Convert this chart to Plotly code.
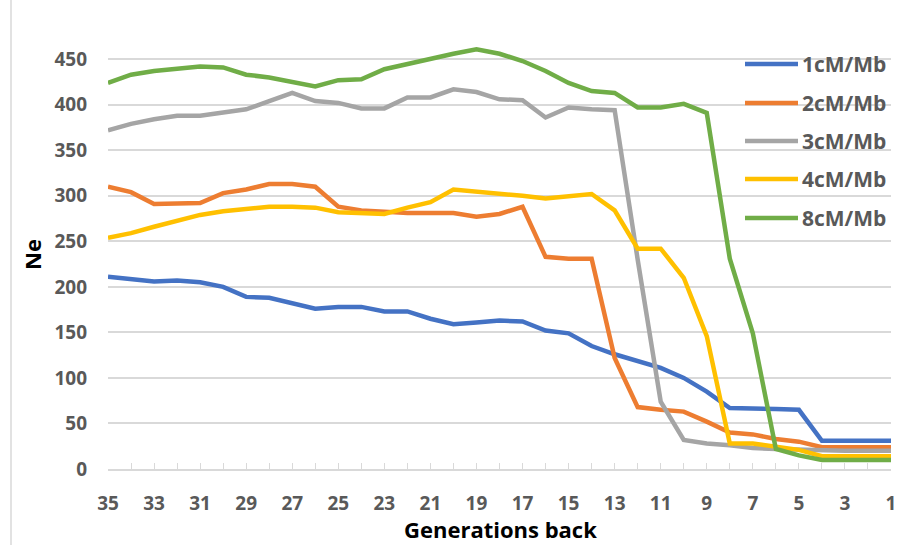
import plotly.graph_objects as go

# ---------------- data ----------------
generations = [35, 34, 33, 32, 31, 30, 29, 28, 27, 26, 25, 24, 23, 22, 21, 20, 19, 18,
               17, 16, 15, 14, 13, 12, 11, 10, 9, 8, 7, 6, 5, 4, 3, 2, 1]
x_tick_labels = ["35", "", "33", "", "31", "", "29", "", "27", "", "25", "", "23", "", "21", "",
                 "19", "", "17", "", "15", "", "13", "", "11", "", "9", "", "7", "", "5", "",
                 "3", "", "1"]
y_tick_values = [0, 50, 100, 150, 200, 250, 300, 350, 400, 450]

ne_1cM = [211, 208, 206, 207, 205, 200, 189, 188, 182, 176, 178, 178, 173, 173, 165, 159, 161, 163,
          162, 152, 149, 135, 126, 118, 111, 100, 85, 67, 67, 66, 65, 31, 31, 31, 31]
ne_2cM = [310, 304, 291, 291, 292, 303, 307, 313, 313, 310, 288, 284, 282, 281, 281, 281, 277, 280,
          288, 233, 231, 231, 122, 68, 65, 63, 52, 40, 38, 33, 30, 24, 24, 24, 24]
ne_3cM = [372, 379, 384, 388, 388, 391, 395, 404, 413, 404, 402, 396, 396, 408, 408, 417, 414, 406,
          405, 386, 397, 395, 394, 230, 74, 32, 28, 26, 23, 22, 21, 20, 20, 20, 20]
ne_4cM = [254, 259, 266, 273, 279, 283, 286, 288, 288, 287, 282, 281, 280, 287, 293, 307, 305, 302,
          300, 297, 299, 302, 284, 242, 242, 210, 146, 28, 28, 25, 21, 14, 14, 14, 14]
ne_8cM = [424, 433, 437, 439, 442, 441, 433, 430, 425, 420, 427, 428, 439, 445, 451, 456, 461, 456,
          448, 437, 424, 415, 413, 397, 397, 401, 391, 231, 149, 22, 15, 10, 10, 10, 10]

series_names = ["1cM/Mb", "2cM/Mb", "3cM/Mb", "4cM/Mb", "8cM/Mb"]
series_values = [ne_1cM, ne_2cM, ne_3cM, ne_4cM, ne_8cM]
series_colors = ["#4472C4", "#ED7D31", "#A5A5A5", "#FFC000", "#70AD47"]

x_title = "Generations back"
y_title = "Ne"

# ---------------- layout geometry ----------------
W, H = 902, 545
L, R, T, B = 108, 11, 41, 76
PW, PH = W - L - R, H - T - B


def px_x(x):
    return (x - L) / PW


def px_y(y):
    return (H - B - y) / PH


FONT = "Open Sans"
TICK_COLOR = "#595959"
GRID = "#D9D9D9"

fig = go.Figure()
for name, vals, col in zip(series_names, series_values, series_colors):
    fig.add_trace(go.Scatter(
        x=generations, y=vals, name=name, mode="lines",
        line=dict(color=col, width=4.5), showlegend=False,
    ))

shapes = []
annotations = []

# manual legend (long line samples like the original)
legend_y = [64, 103, 141, 179, 218]
for name, col, ly in zip(series_names, series_colors, legend_y):
    shapes.append(dict(type="line", xref="paper", yref="paper",
                       x0=px_x(745), x1=px_x(798), y0=px_y(ly), y1=px_y(ly),
                       line=dict(color=col, width=4.5)))
    annotations.append(dict(xref="paper", yref="paper", x=px_x(800), y=px_y(ly),
                            xanchor="left", yanchor="middle", showarrow=False,
                            text=name,
                            font=dict(family=FONT, size=21, color=TICK_COLOR, weight=700)))

# axis titles
annotations.append(dict(xref="paper", yref="paper", x=px_x(500), y=px_y(529),
                        xanchor="center", yanchor="middle", showarrow=False, text=x_title,
                        font=dict(family=FONT, size=22, color="#000000", weight=700)))
annotations.append(dict(xref="paper", yref="paper", x=px_x(32), y=px_y(255),
                        xanchor="center", yanchor="middle", showarrow=False, text=y_title,
                        textangle=-90,
                        font=dict(family=FONT, size=22, color="#000000", weight=700)))

# chart-area left border
shapes.append(dict(type="line", xref="paper", yref="paper", layer="below",
                   x0=px_x(11), x1=px_x(11), y0=px_y(545), y1=px_y(0),
                   line=dict(color=GRID, width=1.5)))

fig.update_layout(
    width=W, height=H,
    margin=dict(l=L, r=R, t=T, b=B, pad=0),
    paper_bgcolor="white", plot_bgcolor="white",
    font=dict(family=FONT, color=TICK_COLOR),
    shapes=shapes, annotations=annotations,
    showlegend=False,
)
fig.update_xaxes(
    range=[35, 1], tickmode="array", tickvals=generations, ticktext=x_tick_labels,
    ticks="inside", ticklen=6, tickcolor=GRID, tickwidth=1,
    showline=True, linecolor=GRID, linewidth=1.5,
    showgrid=False, zeroline=False, automargin=False,
    tickfont=dict(family=FONT, size=19, color=TICK_COLOR, weight=700),
    ticklabelstandoff=16,
)
fig.update_yaxes(
    range=[0, 470], tickmode="array", tickvals=y_tick_values,
    showgrid=True, gridcolor=GRID, gridwidth=1.5,
    zeroline=False, showline=False, ticks="", automargin=False,
    tickfont=dict(family=FONT, size=19, color=TICK_COLOR, weight=700),
    ticklabelstandoff=20,
)

fig.write_html("out.html",
               config={"displayModeBar": False},
               post_script="document.body.style.margin='0';document.body.style.padding='0';")
